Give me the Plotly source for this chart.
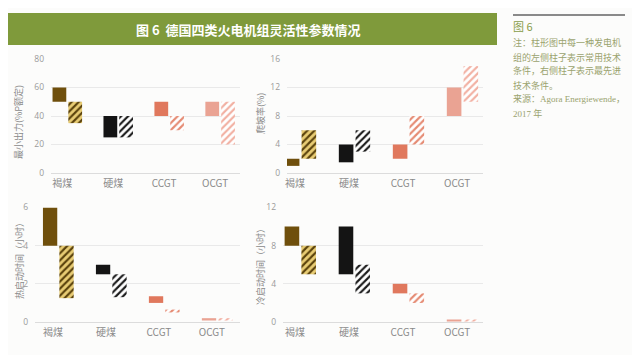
import plotly.graph_objects as go

W, H = 640, 355
OFF = 8  # page body margin offset in the browser

categories = ["褐煤", "硬煤", "CCGT", "OCGT"]

# Minimum load (% of rated power): common (solid) / state-of-the-art (hatched)
min_load_common_low = [50, 25, 40, 40]
min_load_common_high = [60, 40, 50, 50]
min_load_adv_low = [35, 25, 30, 20]
min_load_adv_high = [50, 40, 40, 50]

# Ramp rate (%)
ramp_common_low = [1, 1.5, 2, 8]
ramp_common_high = [2, 4, 4, 12]
ramp_adv_low = [2, 3, 4, 10]
ramp_adv_high = [6, 6, 8, 15]

# Hot start-up time (hours)
hot_common_low = [4, 2.5, 1.0, 0.1]
hot_common_high = [6, 3, 1.35, 0.2]
hot_adv_low = [1.25, 1.3, 0.5, 0.1]
hot_adv_high = [4, 2.5, 0.65, 0.2]

# Cold start-up time (hours)
cold_common_low = [8, 5, 3, 0.1]
cold_common_high = [10, 10, 4, 0.25]
cold_adv_low = [5, 3, 2, 0.1]
cold_adv_high = [8, 6, 3, 0.25]

y_titles = ["最小出力(%P额定)", "爬坡率(%)", "热启动时间（小时）", "冷启动时间（小时）"]
y_ticks = [[0, 20, 40, 60, 80], [0, 4, 8, 12, 16], [0, 2, 4, 6], [0, 4, 8, 12]]

solid_colors = ["#6f4f0c", "#141414", "#e0785d", "#eaa393"]
hatch_bg = ["#e8cc74", "#ffffff", "#ffffff", "#ffffff"]
hatch_fg = ["#5a420c", "#1a1a1a", "#e58a72", "#f2b0a2"]

CJK = "Noto Sans CJK SC"


def px_x(x):
    return (x - OFF) / W


def px_y(y):
    return (H - (y - OFF)) / H


panels = [
    (min_load_common_low, min_load_common_high, min_load_adv_low, min_load_adv_high,
     (51, 240), (173, 59), [-0.22, 3.49], [0, 80]),
    (ramp_common_low, ramp_common_high, ramp_adv_low, ramp_adv_high,
     (287, 483), (173, 59), [-0.15, 3.48], [0, 16]),
    (hot_common_low, hot_common_high, hot_adv_low, hot_adv_high,
     (35, 240), (322, 207.5), [-0.34, 3.53], [0, 6]),
    (cold_common_low, cold_common_high, cold_adv_low, cold_adv_high,
     (283, 483), (322, 207.5), [-0.22, 3.48], [0, 12]),
]

fig = go.Figure()
layout = {}
for i, (cl, ch, al, ah, xd, yd, xr, yr) in enumerate(panels):
    n = "" if i == 0 else str(i + 1)
    xa, ya = "x" + n, "y" + n
    for j, cat in enumerate(categories):
        fig.add_trace(go.Bar(
            x=[cat], y=[ch[j] - cl[j]], base=[cl[j]],
            width=0.27, offset=-0.19,
            marker=dict(color=solid_colors[j], line=dict(width=0)),
            xaxis=xa, yaxis=ya, showlegend=False, hoverinfo="skip"))
        fig.add_trace(go.Bar(
            x=[cat], y=[ah[j] - al[j]], base=[al[j]],
            width=0.27, offset=0.12,
            marker=dict(color=hatch_bg[j], line=dict(width=0),
                        pattern=dict(shape="/", fgcolor=hatch_fg[j], bgcolor=hatch_bg[j],
                                     fgopacity=1, size=5, solidity=0.42,
                                     fillmode="replace")),
            xaxis=xa, yaxis=ya, showlegend=False, hoverinfo="skip"))
    layout["xaxis" + n] = dict(
        domain=[px_x(xd[0]), px_x(xd[1])], anchor=ya, range=xr,
        type="category", categoryorder="array", categoryarray=categories,
        showgrid=False, zeroline=False, showline=False,
        ticks="", ticklabelstandoff=3,
        tickfont=dict(family=CJK, size=10, color="#8a8a8a"),
        automargin=False, fixedrange=True)
    layout["yaxis" + n] = dict(
        domain=[px_y(yd[0]), px_y(yd[1])], anchor=xa, range=yr,
        tickvals=y_ticks[i], showgrid=True, gridcolor="#e9e9e9", gridwidth=1,
        zeroline=True, zerolinecolor="#dcdcdc", zerolinewidth=1,
        showline=False, ticks="", ticklabelstandoff=6,
        tickfont=dict(family="Open Sans", size=8.5, color="#9a9a9a"),
        automargin=False, fixedrange=True)

fig.update_layout(**layout)

annotations = []
title_pos = [(18, 122), (260, 114), (20, 259), (260, 265)]
for t, (x, y) in zip(y_titles, title_pos):
    annotations.append(dict(
        text=t, x=px_x(x), y=px_y(y), xref="paper", yref="paper",
        textangle=-90, showarrow=False, xanchor="center", yanchor="middle",
        font=dict(family=CJK, size=9, color="#8a8a8a")))

annotations.append(dict(
    text="<b>图 6  德国四类火电机组灵活性参数情况</b>", x=px_x(248), y=px_y(29),
    xref="paper", yref="paper", showarrow=False, xanchor="center", yanchor="middle",
    font=dict(family=CJK, size=13, color="#ffffff")))

annotations.append(dict(
    text="图 6", x=px_x(511), y=px_y(26), xref="paper", yref="paper",
    showarrow=False, xanchor="left", yanchor="middle",
    font=dict(family=CJK, size=11, color="#889c48")))
note_lines = ["注：柱形图中每一种发电机", "组的左侧柱子表示常用技术",
              "条件，右侧柱子表示最先进", "技术条件。",
              "来源：Agora Energiewende，", "2017 年"]
for k, line in enumerate(note_lines):
    fam = "Liberation Serif, " + CJK if k >= 4 else CJK
    annotations.append(dict(
        text=line, x=px_x(511), y=px_y(43 + 14 * k), xref="paper", yref="paper",
        showarrow=False, xanchor="left", yanchor="middle",
        font=dict(family=fam, size=9, color="#9aa36e")))

shapes = [
    dict(type="rect", xref="paper", yref="paper", x0=px_x(0), x1=px_x(497),
         y0=px_y(45), y1=px_y(13), fillcolor="#7f9a3b", line=dict(width=0), layer="below"),
    dict(type="rect", xref="paper", yref="paper", x0=px_x(513), x1=px_x(625),
         y0=px_y(16), y1=px_y(14), fillcolor="#8a8a8a", line=dict(width=0), layer="above"),
]

fig.update_layout(
    width=W, height=H, autosize=False,
    margin=dict(l=0, r=0, t=0, b=0),
    paper_bgcolor="#fcfcfb", plot_bgcolor="rgba(0,0,0,0)",
    barmode="overlay", annotations=annotations, shapes=shapes,
    font=dict(family=CJK),
)

fig.write_html("out.html")
